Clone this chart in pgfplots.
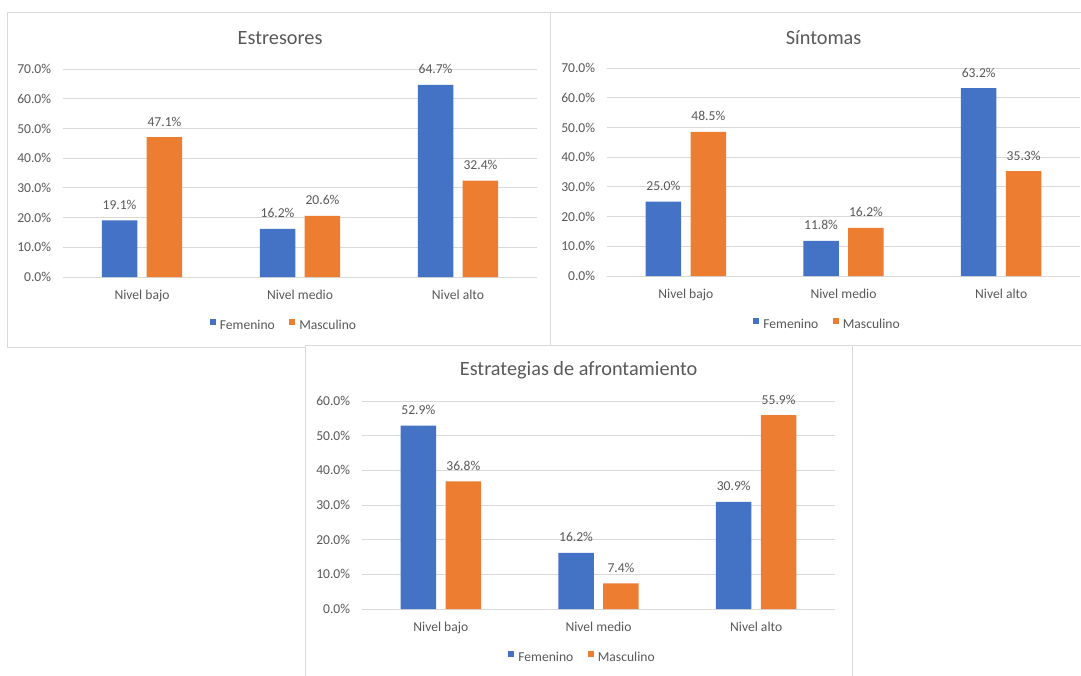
\documentclass[border=0pt]{standalone}
\usepackage{fontspec}
\setmainfont{Carlito}
\usepackage{pgfplots}
\pgfplotsset{compat=1.18}
\definecolor{cblue}{HTML}{4472C4}
\definecolor{corange}{HTML}{ED7D31}
\definecolor{ctext}{HTML}{595959}
\definecolor{cgrid}{HTML}{D9D9D9}
\newcommand{\lbl}{\fontsize{10.2}{12}\selectfont}
\newcommand{\ttl}{\fontsize{15.2}{18}\selectfont}
\pgfplotsset{
  mychart/.style={
    scale only axis,
    anchor=south west,
    height=156pt,
    ybar=7.1pt,
    bar width=26.6pt,
    xmin=-0.5, xmax=2.5,
    ymin=0,
    xtick={0,1,2},
    xticklabels={Nivel bajo,Nivel medio,Nivel alto},
    axis line style={draw=none},
    major tick length=0pt,
    tick style={draw=none},
    ymajorgrids,
    major grid style={cgrid, line width=0.75pt},
    yticklabel={\pgfmathprintnumber[fixed,fixed zerofill,precision=1,assume math mode=true]{\tick}\%},
    yticklabel style={font=\lbl, text=ctext, xshift=-5.4pt},
    xticklabel style={font=\lbl, text=ctext, yshift=-6pt},
    nodes near coords={\pgfmathprintnumber[fixed,fixed zerofill,precision=1,assume math mode=true]{\pgfplotspointmeta}\%},
    every node near coord/.append style={font=\lbl, text=ctext, yshift=4.6pt},
    every axis title/.style={font=\ttl, text=ctext, at={(0.458,1.147)}, anchor=center},
    legend columns=2,
    legend style={at={(0.464,-0.231)}, anchor=center, draw=none, fill=none,
      font=\lbl, text=ctext,
      nodes={inner sep=0pt},
      /tikz/every odd column/.append style={column sep=3.2pt},
      /tikz/every even column/.append style={column sep=10.7pt}},
  },
  sq/.style={legend image code/.code={\fill[##1] (0pt,0.9pt) rectangle (4.4pt,5.3pt);}},
}
\begin{document}
\begin{tikzpicture}
\path[use as bounding box] (0pt,0pt) rectangle (810.75pt,-506.25pt);
\fill[white] (0pt,0pt) rectangle (810.75pt,-506.25pt);
% chart 1 frame
\draw[cgrid, line width=0.75pt, fill=white] (5.25pt,-9pt) rectangle (420pt,-260.25pt);
\begin{axis}[mychart, at={(47.25pt,-207.75pt)}, width=355.5pt, ymax=70, ytick={0,10,...,70},
  title={Estresores}]
\addplot[fill=cblue, draw=none, sq] coordinates {(0,19.1) (1,16.2) (2,64.7)};
\addplot[fill=corange, draw=none, sq] coordinates {(0,47.1) (1,20.6) (2,32.4)};
\legend{Femenino,Masculino}
\end{axis}
% chart 2 frame
\draw[cgrid, line width=0.75pt, fill=white] (412.5pt,-9pt) rectangle (830pt,-258.75pt);
\begin{axis}[mychart, at={(455.25pt,-207pt)}, width=354.75pt, ymax=70, ytick={0,10,...,70},
  title={Síntomas}]
\addplot[fill=cblue, draw=none, sq] coordinates {(0,25.0) (1,11.8) (2,63.2)};
\addplot[fill=corange, draw=none, sq] coordinates {(0,48.5) (1,16.2) (2,35.3)};
\legend{Femenino,Masculino}
\end{axis}
% chart 3 frame
\draw[cgrid, line width=0.75pt, fill=white] (229.1pt,-258.75pt) rectangle (639pt,-520pt);
\begin{axis}[mychart, at={(271.5pt,-456.75pt)}, width=354.75pt, ymax=60, ytick={0,10,...,60},
  title={Estrategias de afrontamiento}]
\addplot[fill=cblue, draw=none, sq] coordinates {(0,52.9) (1,16.2) (2,30.9)};
\addplot[fill=corange, draw=none, sq] coordinates {(0,36.8) (1,7.4) (2,55.9)};
\legend{Femenino,Masculino}
\end{axis}
\end{tikzpicture}
\end{document}
